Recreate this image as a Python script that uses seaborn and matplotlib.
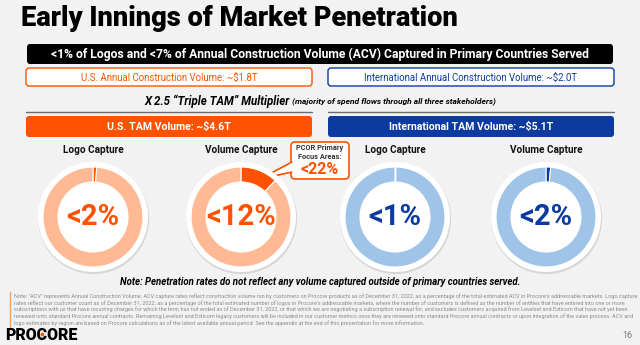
import matplotlib
matplotlib.use("Agg")
import matplotlib.pyplot as plt
import seaborn as sns
from matplotlib.patches import FancyBboxPatch, Circle, Polygon

# ---------------- data ----------------
regions = ["U.S.", "International"]
acv_labels = ["U.S. Annual Construction Volume: ~$1.8T",
              "International Annual Construction Volume: ~$2.0T"]
tam_labels = ["U.S. TAM Volume: ~$4.6T", "International TAM Volume: ~$5.1T"]
capture_titles = ["Logo Capture", "Volume Capture", "Logo Capture", "Volume Capture"]
capture_values = [1.2, 12.0, 0.3, 1.5]          # share of ring filled (%)
capture_labels = ["<2%", "<12%", "<1%", "<2%"]
callout_value = "<22%"

title = "Early Innings of Market Penetration"
banner = "<1% of Logos and <7% of Annual Construction Volume (ACV) Captured in Primary Countries Served"
mult_main = "X 2.5 \u201cTriple TAM\u201d Multiplier"
mult_sub = " (majority of spend flows through all three stakeholders)"
note = "Note: Penetration rates do not reflect any volume captured outside of primary countries served."
footnote = [
    'Note: "ACV" represents Annual Construction Volume. ACV capture rates reflect construction volume run by customers on Procore products as of December 31, 2022, as a percentage of the total estimated ACV in Procore\'s addressable markets. Logo capture',
    "rates reflect our customer count as of December 31, 2022, as a percentage of the total estimated number of logos in Procore's addressable markets, where the number of customers is defined as the number of entities that have entered into one or more",
    "subscriptions with us that have recurring charges for which the term has not ended as of December 31, 2022, or that which we are negotiating a subscription renewal for, and excludes customers acquired from Levelset and Esticom that have not yet been",
    "renewed onto standard Procore annual contracts. Remaining Levelset and Esticom legacy customers will be included in our customer metrics once they are renewed onto standard Procore annual contracts or upon integration of the sales process. ACV and",
    "logo estimates by region are based on Procore calculations as of the latest available annual period. See the appendix at the end of this presentation for more information.",
]
page = "16"

# ---------------- style ----------------
sns.set_theme(style="white")
plt.rcParams["font.family"] = ["Roboto", "DejaVu Sans"]
ORANGE = "#FF5200"
LIGHT_OR = "#FFBA95"
BLUE = "#0C3A9F"
LIGHT_BL = "#9FC4E8"
BG = "#F2F2F2"
dark = [ORANGE, ORANGE, BLUE, BLUE]
light = [LIGHT_OR, LIGHT_OR, LIGHT_BL, LIGHT_BL]

fig = plt.figure(figsize=(6.4, 3.45), dpi=100, facecolor=BG)
bg = fig.add_axes([0, 0, 1, 1])
bg.set_xlim(0, 640)
bg.set_ylim(345, 0)
bg.axis("off")
bg.set_facecolor(BG)
renderer = fig.canvas.get_renderer()


def width(t):
    return t.get_window_extent(renderer).width

# title
bg.text(21, 19, title, fontsize=19.6, fontweight="black", color="black", va="center", ha="left")

# black banner
bg.add_patch(FancyBboxPatch((27, 44), 586, 20, boxstyle="round,pad=0,rounding_size=3",
                            fc="black", ec="none"))
bg.text(320, 54.5, banner, fontsize=8.7, fontweight="bold", color="white", ha="center", va="center")

# outlined ACV boxes
box_x = [26, 328]
box_w = 286
for i in range(2):
    col = ORANGE if i == 0 else BLUE
    bg.add_patch(FancyBboxPatch((box_x[i], 68), box_w, 18, boxstyle="round,pad=0,rounding_size=3",
                                fc="white", ec=col, lw=1.0))
    bg.text(box_x[i] + box_w / 2, 77.5, acv_labels[i], fontsize=6.9, color=col,
            ha="center", va="center")

# multiplier line
t1 = bg.text(0, 101, mult_main, fontsize=8.3, fontweight="bold", fontstyle="italic",
             color="black", ha="left", va="center")
t2 = bg.text(0, 101.6, mult_sub, fontsize=6.0, fontweight="bold", fontstyle="italic",
             color="black", ha="left", va="center")
w1, w2 = width(t1), width(t2)
x0 = 320 - (w1 + w2) / 2
t1.set_x(x0)
t2.set_x(x0 + w1)

# gray rules and TAM bars
for i in range(2):
    col = ORANGE if i == 0 else BLUE
    bg.plot([box_x[i], box_x[i] + box_w], [112, 112], color="#6d6d6d", lw=1.0)
    bg.add_patch(FancyBboxPatch((box_x[i], 116), box_w, 21, boxstyle="round,pad=0,rounding_size=3",
                                fc=col, ec="none"))
    bg.text(box_x[i] + box_w / 2, 126.5, tam_labels[i], fontsize=7.6, fontweight="bold",
            color="white", ha="center", va="center")

# donuts
centers = [93, 241, 395, 546]
cy = 217
for i, cx in enumerate(centers):
    bg.text(cx, 150, capture_titles[i], fontsize=7.2, fontweight="bold", color="#111111",
            ha="center", va="center")
    ax = fig.add_axes([(cx - 62) / 640, 1 - (cy + 62) / 345, 124 / 640, 124 / 345])
    ax.set_xlim(-62, 62)
    ax.set_ylim(-62, 62)
    ax.set_aspect("equal")
    ax.axis("off")
    ax.add_patch(Circle((0.6, -1.6), 55.5, fc="#d6d6d6", ec="none", zorder=0))
    ax.add_patch(Circle((0, 0), 55, fc="white", ec="none", zorder=0.5))
    v = capture_values[i]
    ax.pie([v, 100 - v], radius=50, startangle=90, counterclock=False,
           colors=[dark[i], light[i]],
           wedgeprops=dict(width=15, edgecolor="white", linewidth=0.8))
    ax.set_xlim(-62, 62)
    ax.set_ylim(-62, 62)
    ax.text(0, 0, capture_labels[i], fontsize=21, fontweight="bold", color=dark[i],
            ha="center", va="center")

# callout
tail = Polygon([[292, 162], [292, 172], [260, 179]], closed=True, fc="white", ec=ORANGE,
               lw=1.0, zorder=5)
bg.add_patch(tail)
bg.add_patch(FancyBboxPatch((291, 142), 58, 37, boxstyle="round,pad=0,rounding_size=4",
                            fc="white", ec=ORANGE, lw=1.2, zorder=6))
bg.add_patch(Polygon([[290, 163], [294, 163], [294, 171.5], [290, 171.5]], closed=True,
                     fc="white", ec="none", zorder=7))
bg.plot([292, 260, 292], [162, 179, 172], color=ORANGE, lw=1.0, zorder=8)
bg.text(320, 148.5, "PCOR Primary", fontsize=5.3, fontweight="bold", color="#333333",
        ha="center", va="center", zorder=9)
bg.text(320, 157, "Focus Areas:", fontsize=5.3, fontweight="bold", color="#333333",
        ha="center", va="center", zorder=9)
bg.text(320, 170, callout_value, fontsize=11.5, fontweight="bold", color=ORANGE,
        ha="center", va="center", zorder=9)

# note
bg.text(320, 282, note, fontsize=6.9, fontweight="bold", fontstyle="italic", color="black",
        ha="center", va="center")

# footnote
bg.plot([10, 10], [292, 328], color="#F5A25F", lw=1.0)
fs = 4.0
probe = bg.text(14, 0, footnote[0], fontsize=fs)
fs = fs * 614 / width(probe)
probe.remove()
for k, line in enumerate(footnote):
    bg.text(14, 296 + k * 6.7, line, fontsize=fs, color="#8c8c8c", ha="left", va="center")

# logo and page
logo = bg.text(5, 334.5, "PROCORE", fontsize=11.5, fontweight="black", color="black",
               ha="left", va="center")
pre = bg.text(5, 0, "PRO", fontsize=11.5, fontweight="black")
o = bg.text(5, 0, "C", fontsize=11.5, fontweight="black")
dot_x = 5 + width(pre) + width(o) / 2 + 0.5
pre.remove()
o.remove()
bg.add_patch(Circle((dot_x, 334.5), 1.8, fc=ORANGE, ec="none", zorder=10))
bg.text(632, 335, page, fontsize=6.5, color="#777777", ha="right", va="center")

fig.savefig("out.png", dpi=100, facecolor=BG)
